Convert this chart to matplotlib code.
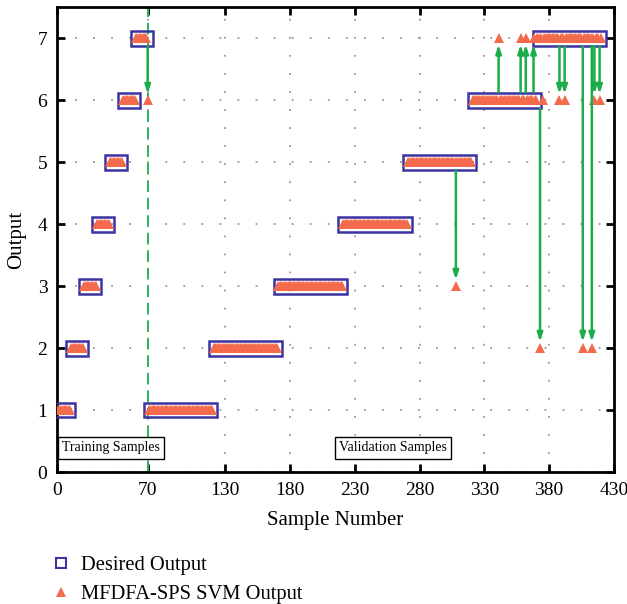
import matplotlib
matplotlib.use('Agg')
import matplotlib.pyplot as plt
from matplotlib.patches import Rectangle
from matplotlib.lines import Line2D
import numpy as np

plt.rcParams['font.family'] = ['Liberation Serif', 'DejaVu Serif']

# Desired output segments (first sample, last sample, class)
seg_start = [1, 11, 21, 31, 41, 51, 61, 71, 121, 171, 221, 271, 321, 371]
seg_end = [10, 20, 30, 40, 50, 60, 70, 120, 170, 220, 270, 320, 370, 420]
seg_class = [1, 2, 3, 4, 5, 6, 7, 1, 2, 3, 4, 5, 6, 7]

# Misclassified samples (sample number, SVM output)
mis_x = [70, 308, 341, 358, 362, 368, 373, 375, 388, 392, 406, 413, 415, 419]
mis_pred = [6, 3, 7, 7, 7, 7, 2, 6, 6, 6, 2, 2, 6, 6]

# Arrows marking errors (sample, desired level, output level)
arr_x = [70, 308, 341, 358, 362, 368, 373, 388, 392, 406, 413, 415, 419]
arr_from = [7, 5, 6, 6, 6, 6, 6, 7, 7, 7, 7, 7, 7]
arr_to = [6, 3, 7, 7, 7, 7, 2, 6, 6, 2, 2, 6, 6]

split_x = 70
xticks = [0, 70, 130, 180, 230, 280, 330, 380, 430]
yticks = [0, 1, 2, 3, 4, 5, 6, 7]

blue = '#3b33a3'
red = '#f36b4c'
green = '#1aad4a'

fig = plt.figure(figsize=(6.27, 6.04), dpi=100)
ax = fig.add_axes([0.091, 0.2185, 0.888, 0.7695])

# build per-sample arrays
samples = []
desired = []
for s, e, c in zip(seg_start, seg_end, seg_class):
    for i in range(s, e + 1):
        samples.append(i)
        desired.append(c)
samples = np.array(samples)
desired = np.array(desired)
pred = desired.copy().astype(float)
for x, p in zip(mis_x, mis_pred):
    pred[samples == x] = p

ax.grid(True, color='#999999', linestyle=(0, (1, 9)), linewidth=1.3)
ax.set_axisbelow(True)

# desired output boxes
for s, e, c in zip(seg_start, seg_end, seg_class):
    ax.add_patch(Rectangle((s - 3.8, c - 0.12), (e - s) + 7.6, 0.24,
                           facecolor='none', edgecolor=blue, lw=1.8, zorder=3))

ax.plot(samples, pred, linestyle='none', marker='^', color=red,
        markersize=7.5, markeredgewidth=0, zorder=4)

ax.axvline(split_x, color='#2fb45a', linestyle=(0, (6, 3)), lw=1.4, zorder=2)

for x, f, t in zip(arr_x, arr_from, arr_to):
    if t < f:
        y0, y1 = f - 0.13, t + 0.1
    else:
        y0, y1 = f + 0.13, t - 0.1
    ax.annotate('', xy=(x, y1), xytext=(x, y0),
                arrowprops=dict(arrowstyle='-|>,head_length=0.5,head_width=0.16',
                                color=green, lw=1.8, shrinkA=0, shrinkB=0),
                zorder=5)

ax.set_xlim(0, 430)
ax.set_ylim(0, 7.5)
ax.set_xticks(xticks)
ax.set_yticks(yticks)
ax.tick_params(direction='in', length=6, width=2, labelsize=14,
               top=True, right=True, pad=7)
for sp in ax.spines.values():
    sp.set_linewidth(2)
ax.set_xlabel('Sample Number', fontsize=15, labelpad=9)
ax.set_ylabel('Output', fontsize=15, labelpad=8)

bbox = dict(boxstyle='square,pad=0.3', facecolor='white', edgecolor='black', lw=1)
ax.text(4, 0.39, 'Training Samples', fontsize=10, va='center', ha='left', bbox=bbox, zorder=6)
ax.text(218, 0.39, 'Validation Samples', fontsize=10, va='center', ha='left', bbox=bbox, zorder=6)

handles = [Line2D([], [], marker='s', linestyle='none', markerfacecolor='none',
                  markeredgecolor=blue, markersize=7, markeredgewidth=1.5),
           Line2D([], [], marker='^', linestyle='none', color=red, markersize=7,
                  markeredgewidth=0)]
fig.legend(handles, ['Desired Output', 'MFDFA-SPS SVM Output'], loc='upper left',
           bbox_to_anchor=(0.06, 0.093), frameon=False, fontsize=14.8,
           handletextpad=0.2, labelspacing=0.45, handlelength=1.5, borderaxespad=0)

fig.savefig('out.png', dpi=100)
